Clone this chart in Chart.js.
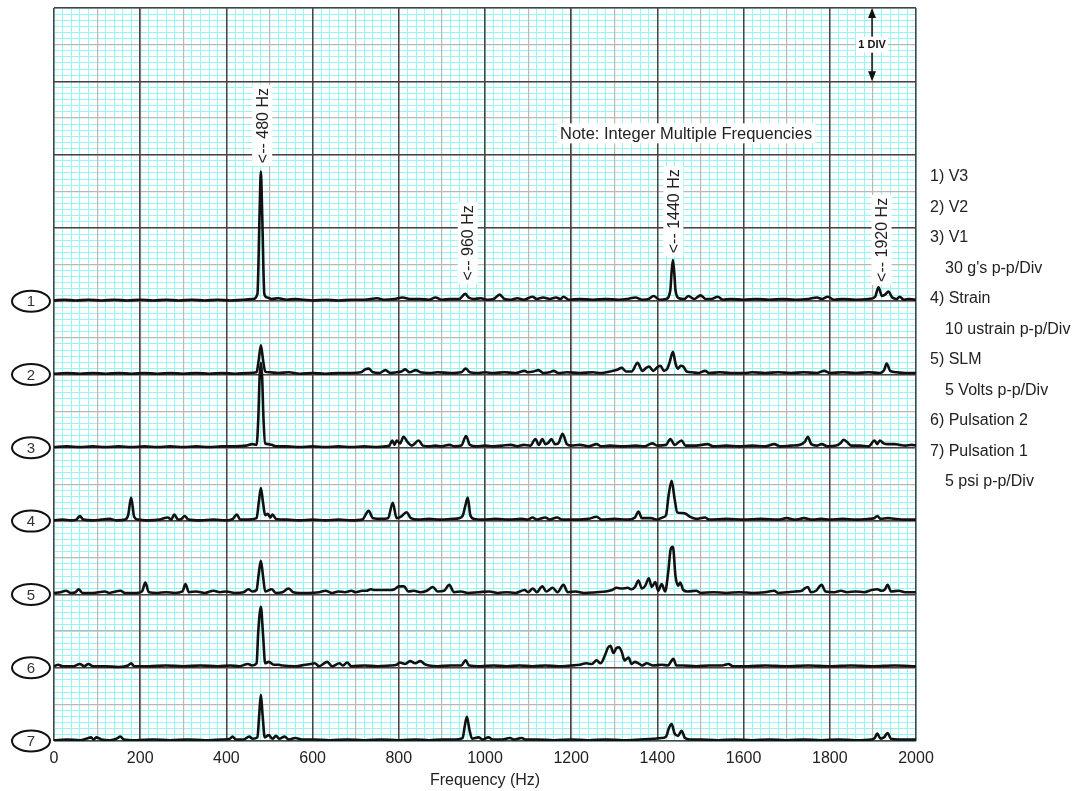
<!DOCTYPE html>
<html>
<head>
<meta charset="utf-8">
<script src="https://cdn.jsdelivr.net/npm/chart.js@4.4.0/dist/chart.umd.min.js"></script>
<style>
  body { margin: 0; background: #fff; }
  #wrap { width: 1088px; height: 791px; position: relative; }
</style>
</head>
<body>
<div id="wrap"><canvas id="myChart"></canvas></div>
<script>
// spectra: [frequency Hz, amplitude in divisions above the trace baseline]
const trace1 = [[0,0.01],[25,0.02],[50,0.01],[80,0.02],[110,0.01],[140,0.02],[170,0.01],[200,0.02],[230,0.01],[260,0.02],[290,0.01],[320,0.02],[350,0.01],[380,0.02],[410,0.01],[440,0.02],[462,0.03],[472,0.1],[477,1.2],[480,1.77],[483,1.2],[488,0.1],[495,0.05],[505,0.03],[520,0.04],[540,0.02],[560,0.03],[580,0.02],[600,0.01],[630,0.02],[660,0.01],[690,0.02],[720,0.02],[750,0.04],[765,0.02],[790,0.03],[809,0.05],[825,0.03],[850,0.03],[870,0.02],[885,0.05],[900,0.02],[920,0.03],[940,0.03],[954,0.1],[962,0.05],[975,0.03],[990,0.04],[1005,0.02],[1020,0.03],[1034,0.09],[1045,0.03],[1060,0.02],[1075,0.04],[1090,0.02],[1110,0.06],[1120,0.03],[1135,0.05],[1150,0.03],[1165,0.05],[1175,0.03],[1182,0.06],[1195,0.02],[1220,0.03],[1250,0.02],[1280,0.03],[1310,0.02],[1330,0.03],[1349,0.05],[1365,0.02],[1380,0.03],[1391,0.07],[1405,0.02],[1420,0.03],[1430,0.15],[1433,0.4],[1436,0.56],[1439,0.4],[1442,0.15],[1450,0.04],[1462,0.03],[1472,0.07],[1485,0.03],[1500,0.08],[1512,0.03],[1525,0.03],[1540,0.06],[1552,0.02],[1570,0.03],[1600,0.02],[1630,0.03],[1660,0.02],[1690,0.03],[1720,0.02],[1750,0.03],[1770,0.05],[1782,0.03],[1795,0.06],[1810,0.02],[1830,0.03],[1860,0.02],[1890,0.03],[1905,0.06],[1913,0.19],[1921,0.07],[1928,0.09],[1936,0.13],[1945,0.05],[1955,0.03],[1962,0.06],[1972,0.02],[1985,0.03],[2000,0.02]];
const trace2 = [[0,0.01],[30,0.02],[60,0.01],[90,0.02],[120,0.01],[150,0.02],[180,0.01],[210,0.02],[240,0.01],[270,0.02],[300,0.01],[330,0.02],[360,0.01],[390,0.02],[420,0.01],[450,0.02],[470,0.03],[475,0.2],[480,0.4],[485,0.2],[490,0.04],[500,0.03],[520,0.02],[545,0.03],[570,0.01],[600,0.02],[630,0.01],[660,0.02],[690,0.02],[712,0.03],[722,0.07],[730,0.08],[740,0.03],[755,0.02],[769,0.06],[780,0.02],[795,0.03],[806,0.04],[815,0.07],[825,0.03],[840,0.06],[850,0.03],[870,0.02],[890,0.03],[920,0.02],[945,0.03],[955,0.08],[965,0.03],[980,0.02],[1000,0.03],[1020,0.02],[1045,0.03],[1070,0.02],[1092,0.05],[1100,0.03],[1112,0.04],[1124,0.06],[1135,0.02],[1150,0.03],[1159,0.05],[1170,0.02],[1190,0.03],[1220,0.02],[1250,0.03],[1270,0.02],[1290,0.04],[1305,0.06],[1317,0.09],[1328,0.04],[1340,0.04],[1354,0.16],[1365,0.05],[1374,0.09],[1381,0.11],[1390,0.05],[1400,0.1],[1407,0.12],[1415,0.05],[1423,0.08],[1429,0.18],[1436,0.31],[1442,0.15],[1448,0.08],[1454,0.12],[1460,0.11],[1468,0.04],[1480,0.03],[1495,0.02],[1511,0.05],[1520,0.02],[1545,0.03],[1570,0.02],[1600,0.02],[1620,0.03],[1650,0.02],[1680,0.03],[1710,0.02],[1740,0.03],[1770,0.02],[1787,0.05],[1800,0.02],[1830,0.03],[1860,0.02],[1890,0.03],[1915,0.02],[1926,0.06],[1932,0.15],[1940,0.05],[1955,0.03],[1975,0.02],[2000,0.02]];
const trace3 = [[0,0.01],[30,0.02],[60,0.01],[90,0.02],[120,0.01],[150,0.02],[180,0.01],[210,0.02],[240,0.01],[270,0.02],[300,0.01],[330,0.02],[360,0.01],[390,0.02],[420,0.02],[445,0.03],[460,0.05],[470,0.04],[474,0.4],[477,0.95],[480,1.16],[483,0.95],[486,0.4],[490,0.06],[497,0.05],[505,0.04],[515,0.02],[540,0.02],[570,0.01],[600,0.02],[630,0.01],[660,0.02],[690,0.01],[720,0.02],[750,0.01],[770,0.02],[778,0.03],[785,0.1],[790,0.04],[795,0.1],[803,0.06],[811,0.15],[820,0.08],[830,0.03],[846,0.1],[856,0.03],[870,0.02],[885,0.03],[900,0.02],[917,0.04],[930,0.02],[945,0.03],[956,0.16],[965,0.04],[980,0.02],[1000,0.03],[1020,0.02],[1040,0.03],[1060,0.04],[1075,0.02],[1090,0.04],[1105,0.03],[1117,0.12],[1125,0.04],[1133,0.12],[1140,0.05],[1147,0.07],[1154,0.12],[1162,0.05],[1170,0.06],[1180,0.19],[1190,0.05],[1200,0.03],[1220,0.04],[1240,0.02],[1259,0.05],[1270,0.02],[1290,0.03],[1320,0.02],[1350,0.03],[1370,0.02],[1388,0.06],[1400,0.03],[1420,0.04],[1430,0.12],[1440,0.04],[1456,0.1],[1465,0.03],[1490,0.03],[1516,0.05],[1530,0.02],[1560,0.03],[1590,0.02],[1620,0.03],[1650,0.02],[1671,0.05],[1685,0.02],[1710,0.03],[1730,0.04],[1742,0.08],[1749,0.15],[1757,0.05],[1770,0.03],[1781,0.05],[1795,0.02],[1815,0.03],[1826,0.07],[1832,0.11],[1840,0.08],[1850,0.03],[1870,0.03],[1890,0.02],[1904,0.1],[1910,0.05],[1916,0.1],[1925,0.06],[1935,0.05],[1950,0.05],[1962,0.04],[1975,0.03],[1990,0.04],[2000,0.03]];
const trace4 = [[0,0.01],[20,0.02],[40,0.01],[52,0.02],[60,0.07],[68,0.02],[90,0.01],[110,0.02],[129,0.03],[145,0.01],[165,0.02],[172,0.08],[179,0.32],[186,0.06],[195,0.02],[220,0.01],[245,0.02],[264,0.05],[272,0.02],[279,0.09],[288,0.02],[296,0.03],[303,0.07],[312,0.02],[340,0.01],[370,0.02],[400,0.01],[415,0.03],[424,0.09],[432,0.02],[450,0.02],[470,0.04],[475,0.25],[480,0.45],[485,0.25],[490,0.08],[496,0.1],[502,0.05],[507,0.09],[515,0.03],[540,0.02],[570,0.01],[600,0.02],[630,0.01],[660,0.02],[690,0.01],[715,0.02],[730,0.14],[740,0.04],[760,0.03],[775,0.04],[786,0.25],[795,0.04],[805,0.06],[818,0.12],[828,0.04],[845,0.02],[870,0.03],[895,0.02],[925,0.03],[940,0.04],[948,0.07],[954,0.2],[960,0.32],[966,0.08],[975,0.03],[995,0.02],[1025,0.03],[1055,0.02],[1085,0.03],[1100,0.02],[1110,0.05],[1120,0.02],[1140,0.05],[1150,0.02],[1167,0.05],[1180,0.02],[1210,0.02],[1240,0.03],[1259,0.06],[1270,0.02],[1300,0.03],[1330,0.02],[1348,0.05],[1356,0.13],[1364,0.04],[1385,0.04],[1400,0.02],[1412,0.05],[1420,0.08],[1426,0.35],[1433,0.55],[1440,0.3],[1446,0.12],[1456,0.11],[1466,0.1],[1475,0.06],[1490,0.03],[1510,0.05],[1520,0.02],[1560,0.03],[1600,0.02],[1640,0.03],[1680,0.02],[1700,0.04],[1720,0.02],[1740,0.04],[1760,0.02],[1780,0.03],[1800,0.02],[1830,0.03],[1860,0.02],[1890,0.03],[1903,0.04],[1910,0.07],[1918,0.03],[1935,0.04],[1950,0.03],[1975,0.02],[2000,0.02]];
const trace5 = [[0,0.02],[15,0.03],[28,0.05],[38,0.02],[50,0.03],[57,0.07],[66,0.02],[90,0.02],[118,0.04],[128,0.02],[154,0.05],[165,0.02],[190,0.02],[204,0.04],[212,0.16],[220,0.03],[240,0.02],[260,0.03],[280,0.02],[298,0.04],[305,0.14],[313,0.03],[330,0.04],[350,0.02],[370,0.05],[385,0.03],[400,0.04],[420,0.02],[440,0.03],[451,0.07],[460,0.04],[470,0.06],[475,0.28],[480,0.46],[485,0.25],[490,0.04],[505,0.07],[515,0.02],[530,0.03],[544,0.08],[555,0.03],[570,0.02],[590,0.02],[615,0.03],[630,0.05],[645,0.02],[660,0.04],[675,0.03],[690,0.05],[700,0.03],[715,0.05],[725,0.05],[735,0.07],[745,0.06],[760,0.06],[780,0.06],[790,0.07],[800,0.11],[812,0.11],[822,0.04],[835,0.05],[850,0.03],[865,0.05],[879,0.1],[890,0.04],[905,0.05],[917,0.13],[928,0.03],[945,0.04],[960,0.02],[985,0.03],[1010,0.04],[1030,0.02],[1050,0.03],[1070,0.02],[1092,0.06],[1100,0.03],[1111,0.08],[1120,0.03],[1133,0.11],[1142,0.04],[1157,0.09],[1168,0.03],[1182,0.13],[1192,0.03],[1210,0.04],[1230,0.02],[1259,0.03],[1280,0.04],[1295,0.06],[1305,0.09],[1318,0.08],[1331,0.09],[1340,0.07],[1348,0.1],[1356,0.19],[1364,0.08],[1372,0.12],[1380,0.22],[1387,0.1],[1395,0.17],[1402,0.05],[1410,0.14],[1418,0.04],[1425,0.3],[1431,0.62],[1436,0.65],[1442,0.25],[1448,0.12],[1453,0.16],[1460,0.06],[1470,0.04],[1490,0.05],[1500,0.02],[1530,0.03],[1560,0.02],[1590,0.03],[1620,0.02],[1650,0.03],[1671,0.05],[1680,0.02],[1700,0.03],[1720,0.04],[1735,0.05],[1741,0.08],[1749,0.1],[1756,0.03],[1768,0.05],[1781,0.13],[1790,0.04],[1810,0.03],[1826,0.05],[1840,0.03],[1860,0.04],[1880,0.03],[1897,0.06],[1910,0.07],[1920,0.05],[1928,0.07],[1934,0.13],[1942,0.04],[1960,0.05],[1975,0.03],[2000,0.03]];
const trace6 = [[0,0.02],[10,0.04],[20,0.02],[45,0.02],[60,0.05],[70,0.02],[80,0.05],[90,0.02],[120,0.02],[150,0.01],[172,0.03],[179,0.06],[186,0.02],[220,0.02],[260,0.03],[300,0.02],[340,0.03],[380,0.02],[410,0.03],[430,0.02],[450,0.05],[460,0.03],[470,0.06],[474,0.5],[480,0.83],[485,0.45],[490,0.06],[498,0.08],[510,0.04],[522,0.04],[530,0.03],[560,0.02],[583,0.04],[595,0.05],[605,0.06],[615,0.02],[634,0.08],[645,0.02],[662,0.06],[670,0.03],[680,0.07],[690,0.02],[720,0.03],[750,0.02],[780,0.03],[795,0.04],[802,0.07],[815,0.05],[826,0.09],[838,0.06],[850,0.09],[860,0.05],[870,0.03],[890,0.02],[920,0.03],[945,0.03],[955,0.1],[963,0.03],[990,0.02],[1020,0.03],[1050,0.02],[1080,0.03],[1110,0.02],[1140,0.03],[1170,0.02],[1200,0.03],[1220,0.04],[1235,0.06],[1248,0.05],[1259,0.1],[1268,0.06],[1279,0.18],[1285,0.27],[1291,0.3],[1298,0.2],[1305,0.27],[1311,0.28],[1317,0.22],[1324,0.1],[1333,0.14],[1340,0.05],[1348,0.08],[1356,0.06],[1365,0.03],[1375,0.06],[1390,0.03],[1410,0.04],[1425,0.03],[1431,0.08],[1437,0.12],[1444,0.03],[1460,0.03],[1490,0.02],[1520,0.03],[1550,0.03],[1565,0.05],[1575,0.02],[1610,0.02],[1650,0.03],[1700,0.02],[1750,0.03],[1800,0.02],[1850,0.03],[1900,0.02],[1950,0.03],[2000,0.02]];
const trace7 = [[0,0.01],[30,0.02],[60,0.01],[75,0.03],[86,0.05],[92,0.02],[98,0.05],[110,0.02],[130,0.01],[145,0.03],[154,0.06],[162,0.02],[190,0.01],[230,0.02],[270,0.01],[310,0.02],[350,0.01],[390,0.02],[408,0.03],[414,0.06],[422,0.02],[440,0.02],[453,0.06],[461,0.03],[472,0.05],[476,0.35],[480,0.63],[484,0.35],[489,0.05],[498,0.08],[507,0.03],[515,0.07],[523,0.03],[535,0.06],[545,0.02],[560,0.04],[575,0.02],[600,0.02],[640,0.01],[680,0.02],[720,0.01],[760,0.02],[800,0.01],[840,0.02],[870,0.01],[900,0.02],[930,0.02],[948,0.04],[953,0.2],[958,0.33],[964,0.15],[970,0.03],[985,0.05],[995,0.02],[1008,0.05],[1018,0.02],[1040,0.02],[1058,0.04],[1068,0.02],[1085,0.04],[1095,0.02],[1120,0.02],[1160,0.01],[1200,0.02],[1240,0.01],[1280,0.02],[1320,0.01],[1360,0.02],[1390,0.03],[1410,0.04],[1420,0.06],[1427,0.18],[1433,0.23],[1440,0.1],[1448,0.07],[1456,0.14],[1464,0.04],[1475,0.02],[1500,0.02],[1540,0.01],[1580,0.02],[1620,0.01],[1660,0.02],[1700,0.01],[1740,0.02],[1780,0.01],[1820,0.02],[1860,0.01],[1895,0.02],[1904,0.04],[1910,0.1],[1918,0.03],[1926,0.05],[1934,0.11],[1942,0.03],[1960,0.02],[1980,0.02],[2000,0.02]];

const traces = [trace1, trace2, trace3, trace4, trace5, trace6, trace7];
const traceNumbers = ["1", "2", "3", "4", "5", "6", "7"];

const legendLines = ["1) V3", "2) V2", "3) V1", "30 g's p-p/Div", "4) Strain", "10 ustrain p-p/Div",
                     "5) SLM", "5 Volts p-p/Div", "6) Pulsation 2", "7) Pulsation 1", "5 psi p-p/Div"];
const legendIndent = [false, false, false, true, false, true, false, true, false, false, true];

const peakLabels = ["<-- 480 Hz", "<-- 960 Hz", "<-- 1440 Hz", "<-- 1920 Hz"];
const peakLabelHz = [483, 960, 1437, 1920];
const peakLabelStart = [7.87, 6.27, 6.64, 6.25];

const noteText = "Note: Integer Multiple Frequencies";
const xTickLabels = [0, 200, 400, 600, 800, 1000, 1200, 1400, 1600, 1800, 2000];

const FONT = "'Liberation Sans', Arial, Helvetica, sans-serif";
Chart.defaults.font.family = FONT;
Chart.defaults.color = "#222";

const CYAN = "#94f6f6", GRAY = "#b8b8b8", DARK = "#454545";

const decor = {
  id: "decor",
  afterDraw(chart) {
    const ctx = chart.ctx;
    const xs = chart.scales.x, ys = chart.scales.y;
    const area = chart.chartArea;
    ctx.save();

    // circled trace numbers on the left
    traceNumbers.forEach((n, i) => {
      const cy = ys.getPixelForValue(traces.length - 1 - i);
      const cx = area.left - 23;
      ctx.beginPath();
      ctx.ellipse(cx, cy, 19, 10.5, 0, 0, Math.PI * 2);
      ctx.fillStyle = "#fff";
      ctx.fill();
      ctx.lineWidth = 2;
      ctx.strokeStyle = "#111";
      ctx.stroke();
      ctx.fillStyle = "#333";
      ctx.font = "15px " + FONT;
      ctx.textAlign = "center";
      ctx.textBaseline = "middle";
      ctx.fillText(n, cx, cy + 1);
    });

    // channel list on the right
    ctx.font = "16px " + FONT;
    ctx.textAlign = "left";
    ctx.textBaseline = "middle";
    ctx.fillStyle = "#222";
    legendLines.forEach((t, i) => {
      ctx.fillText(t, area.right + (legendIndent[i] ? 29 : 14), 177 + i * 30.5);
    });

    // rotated harmonic labels
    ctx.font = "16px " + FONT;
    peakLabels.forEach((t, i) => {
      const x = xs.getPixelForValue(peakLabelHz[i]);
      const y = ys.getPixelForValue(peakLabelStart[i]);
      const w = ctx.measureText(t).width;
      ctx.save();
      ctx.translate(x, y);
      ctx.rotate(-Math.PI / 2);
      ctx.fillStyle = "#fff";
      ctx.fillRect(-2, -10, w + 6, 20);
      ctx.fillStyle = "#222";
      ctx.textAlign = "left";
      ctx.textBaseline = "middle";
      ctx.fillText(t, 1, 1);
      ctx.restore();
    });

    // note
    ctx.font = "16.5px " + FONT;
    const nw = ctx.measureText(noteText).width;
    const nx = xs.getPixelForValue(1174), ny = ys.getPixelForValue(8.29);
    ctx.fillStyle = "#fff";
    ctx.fillRect(nx - 3, ny - 10, nw + 6, 20);
    ctx.fillStyle = "#222";
    ctx.textAlign = "left";
    ctx.fillText(noteText, nx, ny + 1);

    // 1 DIV scale marker
    const dx = xs.getPixelForValue(1898);
    const top = ys.getPixelForValue(10), bot = ys.getPixelForValue(9);
    ctx.strokeStyle = "#111";
    ctx.fillStyle = "#111";
    ctx.lineWidth = 1.5;
    ctx.beginPath();
    ctx.moveTo(dx, top + 2);
    ctx.lineTo(dx, bot - 2);
    ctx.stroke();
    [[top, 1], [bot, -1]].forEach(([py, d]) => {
      ctx.beginPath();
      ctx.moveTo(dx, py);
      ctx.lineTo(dx - 4, py + 10 * d);
      ctx.lineTo(dx + 4, py + 10 * d);
      ctx.closePath();
      ctx.fill();
    });
    ctx.font = "bold 11px " + FONT;
    const dw = ctx.measureText("1 DIV").width;
    const my = (top + bot) / 2;
    ctx.fillStyle = "#fff";
    ctx.fillRect(dx - dw / 2 - 2, my - 8, dw + 4, 16);
    ctx.fillStyle = "#111";
    ctx.textAlign = "center";
    ctx.fillText("1 DIV", dx, my);
    ctx.restore();
  }
};

// grid layers: cyan minor, gray half-division, dark division lines (drawn in that order)
function gridAxis(axis, count, color, width, z) {
  const max = axis === "x" ? 2000 : 10;
  const o = {
    type: "linear",
    display: true,
    position: axis === "x" ? "bottom" : "left",
    min: 0,
    max: max,
    border: { display: false },
    grid: { color: color, lineWidth: width, drawTicks: false, z: z },
    ticks: { display: false, autoSkip: false },
    afterBuildTicks: (s) => {
      s.ticks = [];
      for (let i = 0; i <= count; i++) s.ticks.push({ value: (max * i) / count });
    }
  };
  o.afterFit = axis === "x" ? (s) => { s.height = 0; } : (s) => { s.width = 0; };
  return o;
}

new Chart(document.getElementById("myChart"), {
  type: "line",
  data: {
    datasets: traces.map((tr, i) => ({
      label: "Trace " + traceNumbers[i],
      data: tr.map(([f, a]) => ({ x: f, y: a + (traces.length - 1 - i) })),
      borderColor: "#111",
      borderWidth: 2.6,
      pointRadius: 0,
      fill: false,
      cubicInterpolationMode: "monotone"
    }))
  },
  options: {
    responsive: true,
    maintainAspectRatio: false,
    animation: false,
    layout: { padding: { left: 54, right: 172, top: 8, bottom: 0 } },
    plugins: { legend: { display: false }, tooltip: { enabled: false }, title: { display: false } },
    scales: {
      xMinor: gridAxis("x", 100, CYAN, 1, -6),
      yMinor: gridAxis("y", 120, CYAN, 1, -5),
      xMid: gridAxis("x", 20, GRAY, 1.2, -4),
      yMid: gridAxis("y", 20, GRAY, 1.2, -3),
      x: {
        type: "linear",
        position: "bottom",
        min: 0,
        max: 2000,
        afterFit: (s) => { s.height = 50; },
        border: { display: false },
        grid: { color: DARK, lineWidth: 1.5, drawTicks: false, z: -1 },
        ticks: {
          stepSize: 200,
          autoSkip: false,
          maxRotation: 0,
          padding: 8,
          font: { size: 16 },
          color: "#222",
          callback: (v) => (xTickLabels.includes(v) ? String(v) : "")
        },
        title: { display: true, text: "Frequency (Hz)", font: { size: 16 }, color: "#222", padding: { top: 0, bottom: 1 } }
      },
      y: {
        type: "linear",
        position: "left",
        min: 0,
        max: 10,
        afterFit: (s) => { s.width = 0; },
        border: { display: false },
        grid: { color: DARK, lineWidth: 1.5, drawTicks: false, z: -1 },
        ticks: { display: false, stepSize: 1, autoSkip: false }
      }
    }
  },
  plugins: [decor]
});
</script>
</body>
</html>
